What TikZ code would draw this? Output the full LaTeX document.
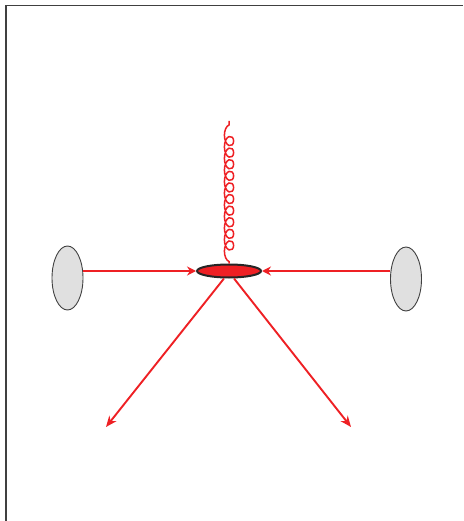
\documentclass[tikz,border=0pt]{standalone}
\usetikzlibrary{shapes.geometric,arrows.meta,decorations.pathmorphing}
\definecolor{fred}{HTML}{EE2024}
\definecolor{hgray}{HTML}{E0E0E0}
\definecolor{hline}{HTML}{404040}
\tikzset{
  hadron/.style={ellipse,draw=hline,fill=hgray,line width=0.9pt,minimum width=31pt,minimum height=64pt,inner sep=0pt},
  blob/.style={ellipse,draw=black!85,fill=fred,line width=2pt,minimum width=64pt,minimum height=13pt,inner sep=0pt},
  parton/.style={draw=fred,line width=1.9pt},
  jet/.style={draw=fred,line width=1.9pt,-{Stealth[length=11pt,width=9pt]}},
  gluon/.style={draw=fred,line width=1.5pt,decorate,decoration={coil,aspect=1.6,segment length=11.6pt,amplitude=4.6pt,pre length=2pt}}
}
\begin{document}
\begin{tikzpicture}[x=1pt,y=-1pt]
\useasboundingbox (0,0) rectangle (463,521);
\draw[hline,line width=1.3pt] (6,521) -- (6,5.5) -- (463,5.5);
\node[hadron] (hl) at (67.5,278) {};
\node[hadron] (hr) at (406,279) {};
\node[blob] (v) at (229,271) {};
\coordinate (g) at (229,121);
\coordinate (jl) at (106,427);
\coordinate (jr) at (351,427);
\draw[gluon] (v.north) -- (g);
\draw[parton,-{Stealth[length=9pt,width=9pt,inset=3pt]}] (hl.east |- v) -- (v.west);
\draw[parton,-{Stealth[length=9pt,width=9pt,inset=3pt]}] (hr.west |- v) -- (v.east);
\draw[jet] ([xshift=-5pt]v.south) -- (jl);
\draw[jet] ([xshift=5pt]v.south) -- (jr);
\end{tikzpicture}
\end{document}
